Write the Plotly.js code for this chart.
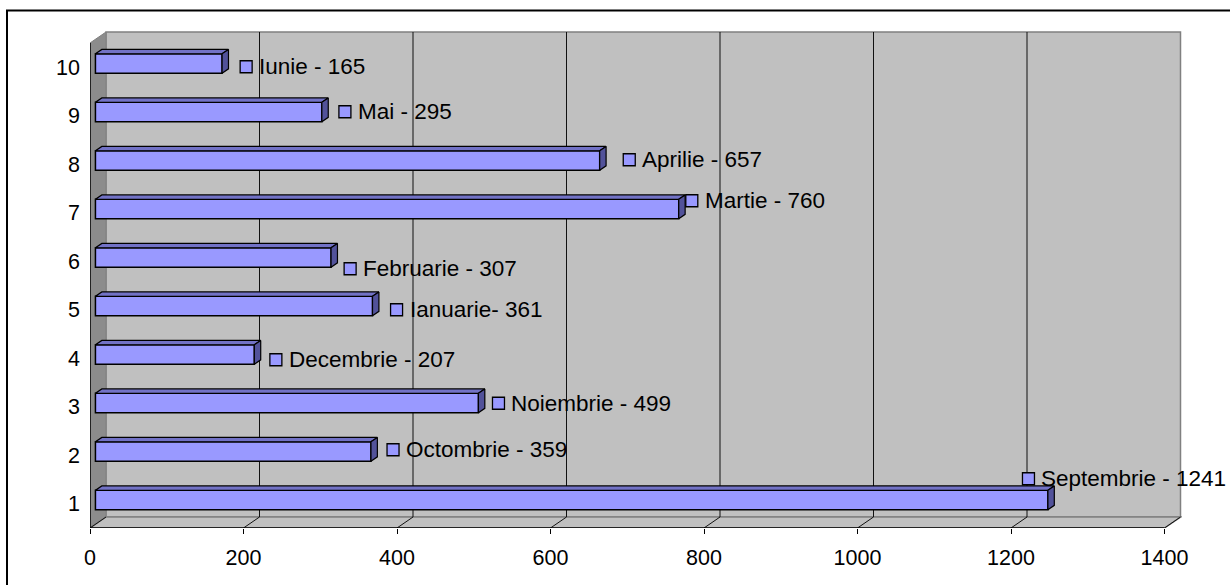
<!DOCTYPE html>
<html>
<head>
<meta charset="utf-8">
<script src="https://cdn.plot.ly/plotly-3.0.1.min.js"></script>
<style>html,body{margin:0;padding:0;background:#fff;}#chart{width:1230px;height:585px;}</style>
</head>
<body>
<div id="chart"></div>
<script>
// ---- data ----
const categories = [1, 2, 3, 4, 5, 6, 7, 8, 9, 10];
const months = ["Septembrie", "Octombrie", "Noiembrie", "Decembrie", "Ianuarie", "Februarie", "Martie", "Aprilie", "Mai", "Iunie"];
const values = [1241, 359, 499, 207, 361, 307, 760, 657, 295, 165];
const separators = [" - ", " - ", " - ", " - ", "- ", " - ", " - ", " - ", " - ", " - "];
const xTicks = [0, 200, 400, 600, 800, 1000, 1200, 1400];

// ---- label placement nudges (pixels, layout only) ----
const labelDx = [-14, 27.5, 25.5, 27, 29.5, 24.5, 18.5, 35, 28.5, 29.5];
const labelDy = [-25, -5.5, -3.5, 1.5, 0, 7.5, -12, -4.5, -4, -0.5];

// ---- geometry ----
const M = {l: 90, r: 48, t: 30, b: 57};
const PW = 1230 - M.l - M.r, PH = 585 - M.t - M.b;
const pxX = 0.7675, pxY = 48.5;
const xMax = PW / pxX;
const yMin = 0.5, yMax = yMin + PH / pxY;
const DX = 16 / pxX, DY = 11 / pxY;      // depth of the 3D box
const f1 = 0.34, f2 = 0.74;              // bar front / back depth fraction
const half = 0.2;                          // half bar thickness (category units)
const xEnd = xTicks[xTicks.length - 1];
const yTop = categories.length + 0.5;

const FONT = "Arial, 'Liberation Sans', sans-serif";
const shapes = [];
const line = (x0, y0, x1, y1, color, w, extra) => Object.assign({type: 'line', xref: 'x', yref: 'y', x0, y0, x1, y1, layer: 'below', line: {color, width: w}}, extra || {});

// back wall
shapes.push({type: 'rect', xref: 'x', yref: 'y', x0: DX, x1: xEnd + DX, y0: yMin + DY, y1: yTop + DY, layer: 'below', fillcolor: '#C0C0C0', line: {color: '#808080', width: 1.5}});
// side wall
shapes.push({type: 'path', xref: 'x', yref: 'y', layer: 'below', path: `M0,${yMin} L${DX},${yMin + DY} L${DX},${yTop + DY} L0,${yTop} Z`, fillcolor: '#8C8C8C', line: {color: '#808080', width: 1}});
// floor
shapes.push({type: 'path', xref: 'x', yref: 'y', layer: 'below', path: `M0,${yMin} L${DX},${yMin + DY} L${xEnd + DX},${yMin + DY} L${xEnd},${yMin} Z`, fillcolor: '#C0C0C0', line: {color: '#808080', width: 1.5}});
// gridlines on back wall + floor diagonals
xTicks.forEach((v, i) => {
  if (i > 0 && i < xTicks.length - 1) shapes.push(line(v + DX, yMin + DY, v + DX, yTop + DY, '#111', 1));
  shapes.push(line(v, yMin, v + DX, yMin + DY, '#111', 1));
});
// front axes
shapes.push(line(0, yMin, xEnd, yMin, '#000', 1.5));
shapes.push(line(0, yMin, 0, yTop, '#000', 1.5));
// category boundary ticks on the y axis
for (let k = 0; k <= categories.length; k++) {
  shapes.push({type: 'line', xref: 'x', yref: 'y', xsizemode: 'pixel', xanchor: 0, x0: -6, x1: 0, y0: k + 0.5, y1: k + 0.5, layer: 'above', line: {color: '#000', width: 1}});
}
// outer frame
const px2paperX = p => (p - M.l) / PW;
const px2paperY = p => (M.t + PH - p) / PH;
shapes.push({type: 'rect', xref: 'paper', yref: 'paper', x0: px2paperX(7), x1: px2paperX(1320), y0: px2paperY(640), y1: px2paperY(10.5), line: {color: '#000', width: 2}, layer: 'above'});

// ---- traces ----
const traces = [];
const base = f1 * DX, lift = f1 * DY;
const bdx = (f2 - f1) * DX, bdy = (f2 - f1) * DY;
traces.push({
  type: 'bar', orientation: 'h',
  x: values, y: categories.map(c => c + lift), base: values.map(() => base),
  width: 2 * half,
  marker: {color: '#9999FF', line: {color: '#000', width: 1.5}},
  hoverinfo: 'skip'
});
values.forEach((v, i) => {
  const c = categories[i] + lift;
  const yt = c + half, yb = c - half, xe = base + v;
  traces.push({type: 'scatter', mode: 'lines', fill: 'toself', fillcolor: '#7272C6',
    x: [base, base + bdx, xe + bdx, xe, base], y: [yt, yt + bdy, yt + bdy, yt, yt],
    line: {color: '#000', width: 1.2}, hoverinfo: 'skip'});
  traces.push({type: 'scatter', mode: 'lines', fill: 'toself', fillcolor: '#52529A',
    x: [xe, xe + bdx, xe + bdx, xe, xe], y: [yt, yt + bdy, yb + bdy, yb, yt],
    line: {color: '#000', width: 1.2}, hoverinfo: 'skip'});
});
// label keys
traces.push({
  type: 'scatter', mode: 'markers', cliponaxis: false,
  x: values.map((v, i) => v + labelDx[i] / pxX),
  y: categories.map((c, i) => c - labelDy[i] / pxY),
  marker: {symbol: 'square', size: 12, color: '#9999FF', line: {color: '#000', width: 1.3}},
  hoverinfo: 'skip'
});

const annotations = values.map((v, i) => ({
  xref: 'x', yref: 'y', x: v, y: categories[i],
  xshift: labelDx[i] + 11, yshift: -labelDy[i],
  xanchor: 'left', yanchor: 'middle', showarrow: false,
  text: months[i] + separators[i] + v,
  font: {family: FONT, size: 22.5, color: '#000'}
}));

const layout = {
  width: 1230, height: 585,
  margin: M,
  paper_bgcolor: '#FFFFFF', plot_bgcolor: 'rgba(0,0,0,0)',
  showlegend: false,
  font: {family: FONT, size: 21, color: '#000'},
  xaxis: {range: [0, xMax], tickvals: xTicks, ticktext: xTicks.map(String), ticks: 'outside', ticklen: 5, tickcolor: '#000', tickwidth: 1,
          showgrid: false, zeroline: false, showline: false, ticklabelstandoff: 5, tickfont: {size: 21.5}, fixedrange: true},
  yaxis: {range: [yMin, yMax], tickvals: categories, ticktext: categories.map(String), ticks: '', showgrid: false, zeroline: false,
          showline: false, ticklabelstandoff: 9, tickfont: {size: 21.5}, fixedrange: true},
  shapes, annotations,
  bargap: 0
};

Plotly.newPlot('chart', traces, layout, {displayModeBar: false, staticPlot: true});
</script>
</body>
</html>
